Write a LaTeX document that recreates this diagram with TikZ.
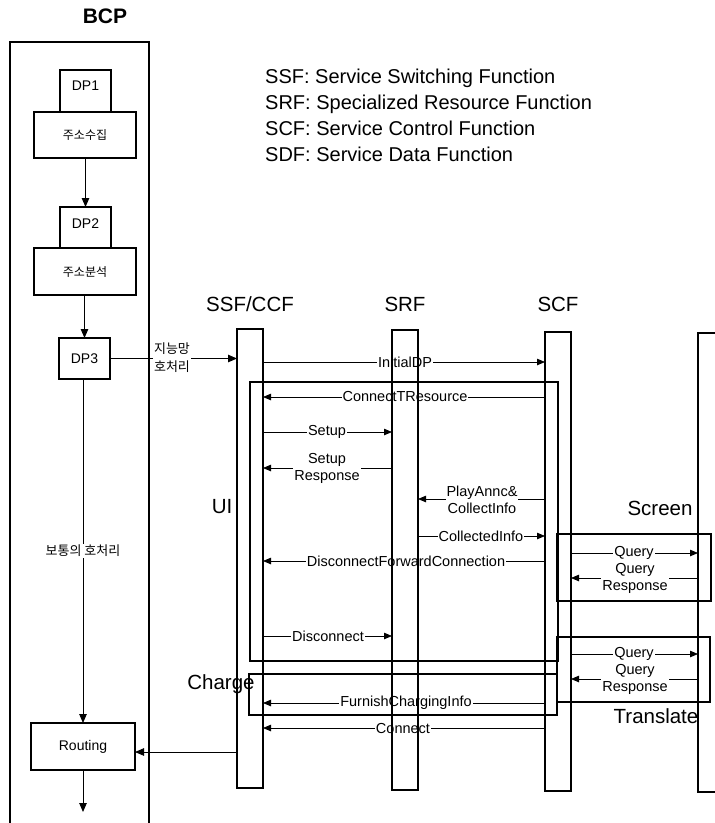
\documentclass[tikz,border=0pt]{standalone}
\usepackage{fontspec}
\setmainfont{Liberation Sans}
\newfontfamily\kr{Noto Sans CJK KR}
\usetikzlibrary{arrows.meta}
\begin{document}
\begin{tikzpicture}[x=1pt,y=-1pt,
  ln/.style={line width=1.1pt},
  msg/.style={line width=0.8pt,-{Triangle[length=8pt,width=6.5pt]}},
  flow/.style={line width=0.9pt,-{Triangle[length=9pt,width=7.5pt]}},
  barnode/.style={minimum width=26pt,inner sep=0pt,outer sep=0pt},
  box/.style={draw,line width=1.1pt,fill=white,inner sep=0pt,outer sep=0pt,font=\fontsize{14}{15}\selectfont},
  krbox/.style={box,font=\kr\fontsize{12}{14}\selectfont},
  grp/.style={draw,line width=1.1pt,inner sep=0pt,outer sep=0pt},
  lbl/.style={fill=white,inner sep=1pt,font=\fontsize{14.5}{17}\selectfont,align=center},
  krlbl/.style={fill=white,inner sep=1pt,font=\kr\fontsize{13}{18}\selectfont,align=center},
  big/.style={font=\fontsize{20.5}{24}\selectfont,inner sep=0pt,anchor=base},
  leg/.style={font=\fontsize{20}{24}\selectfont,inner sep=0pt,anchor=base west}
]
\useasboundingbox (0,0) rectangle (715,823);

% ---------- BCP ----------
\node[font=\bfseries\fontsize{21}{24}\selectfont,inner sep=0pt,anchor=base] (bcp) at (105,23) {BCP};
\draw[ln] (10,823) -- (10,42) -- (149,42) -- (149,823);

\node[box,minimum width=51pt,minimum height=42pt] (dp1) at (85.5,91) {};
\node[font=\fontsize{14}{15}\selectfont,inner sep=0pt] (dp1t) at (85.5,86) {DP1};
\node[krbox,minimum width=102pt,minimum height=46pt] (a1) at (85,135) {주소수집};

\node[box,minimum width=51pt,minimum height=41pt] (dp2) at (85.5,227.5) {};
\node[font=\fontsize{14}{15}\selectfont,inner sep=0pt] (dp2t) at (85.5,224) {DP2};
\node[krbox,minimum width=102pt,minimum height=47pt] (a2) at (85,271.5) {주소분석};

\node[box,minimum width=51pt,minimum height=41pt] (dp3) at (84.5,358.5) {DP3};
\node[box,minimum width=104pt,minimum height=47pt] (rt) at (83,746.5) {Routing};
\coordinate (rtout) at (83,812);

\draw[flow] (a1.south -| dp2.north) -- (dp2.north);
\draw[flow] (a2.south -| dp3.north) -- (dp3.north);
\draw[flow] (dp3.south -| rt.north) -- (rt.north);
\node[krlbl] (normal) at (83,551) {보통의 호처리};
\draw[flow] (rt.south) -- (rtout);

% ---------- headers and legend ----------
\node[big] (hssf) at (250,311) {SSF/CCF};
\node[big] (hsrf) at (405,311) {SRF};
\node[big] (hscf) at (558,311) {SCF};
\node[leg] (l1) at (265,83) {SSF: Service Switching Function};
\node[leg] (l2) at (265,109) {SRF: Specialized Resource Function};
\node[leg] (l3) at (265,135) {SCF: Service Control Function};
\node[leg] (l4) at (265,161) {SDF: Service Data Function};

% ---------- lifeline bars (positions) ----------
\path node[barnode,minimum height=459pt] (ssf) at (250,558.5) {}
      node[barnode,minimum height=460pt] (srf) at (405,560) {}
      node[barnode,minimum height=459pt] (scf) at (558,561.5) {};
\coordinate (sdf) at (698,333);

% ---------- group boxes ----------
\node[grp,minimum width=308pt,minimum height=279pt] (ui) at (404,521.5) {};
\node[grp,minimum width=308pt,minimum height=41pt] (chg) at (403,694.5) {};
\node[grp,minimum width=154pt,minimum height=67pt] (scr) at (634,567.5) {};
\node[grp,minimum width=153pt,minimum height=65pt] (trn) at (633.5,669.5) {};

\node[big] (tui) at (222,513) {UI};
\node[big] (tchg) at (221,689) {Charge};
\node[big] (tscr) at (660,515) {Screen};
\node[big] (ttrn) at (656,723) {Translate};

% ---------- BCP <-> SSF ----------
\draw[flow] (dp3.east) -- (ssf.west |- dp3.east);
\node[krlbl] (inlbl) at (172,358) {지능망\\호처리};
\draw[flow] (ssf.west |- 0,752) -- (rt.east |- 0,752);

% ---------- messages ----------
\draw[msg] (ssf.east |- 0,362) -- (scf.west |- 0,362);
\node[lbl] (m1) at (405,362) {InitialDP};
\draw[msg] (scf.west |- 0,397) -- (ssf.east |- 0,397);
\node[lbl] (m2) at (405,397) {ConnectTResource};
\draw[msg] (ssf.east |- 0,432) -- (srf.west |- 0,432);
\node[lbl] (m3) at (327,432) {Setup};
\draw[msg] (srf.west |- 0,468) -- (ssf.east |- 0,468);
\node[lbl] (m4) at (327,468) {Setup\\Response};
\draw[msg] (scf.west |- 0,499) -- (srf.east |- 0,499);
\node[lbl] (m5) at (482,500) {PlayAnnc\&\\CollectInfo};
\draw[msg] (srf.east |- 0,536) -- (scf.west |- 0,536);
\node[lbl] (m6) at (481,536) {CollectedInfo};
\draw[msg] (scf.west |- 0,561) -- (ssf.east |- 0,561);
\node[lbl] (m7) at (406,561) {DisconnectForwardConnection};
\draw[msg] (ssf.east |- 0,636) -- (srf.west |- 0,636);
\node[lbl] (m8) at (328,636) {Disconnect};
\draw[msg] (scf.west |- 0,703) -- (ssf.east |- 0,703);
\node[lbl] (m9) at (406,703) {FurnishChargingInfo};
\draw[msg] (scf.west |- 0,728) -- (ssf.east |- 0,728);
\node[lbl] (m10) at (403,728) {Connect};

\draw[msg] (scf.east |- 0,553) -- (sdf |- 0,553);
\node[lbl] (q1) at (634,553) {Query};
\draw[msg] (sdf |- 0,578) -- (scf.east |- 0,578);
\node[lbl] (q2) at (635,578) {Query\\Response};
\draw[msg] (scf.east |- 0,654) -- (sdf |- 0,654);
\node[lbl] (q3) at (634,654) {Query};
\draw[msg] (sdf |- 0,679) -- (scf.east |- 0,679);
\node[lbl] (q4) at (635,679) {Query\\Response};

% ---------- lifeline bars (outlines on top) ----------
\foreach \b in {ssf,srf,scf}
  \draw[ln] (\b.south west) rectangle (\b.north east);
\draw[ln] (715,333) -- (sdf) -- (698,792) -- (715,792);
\end{tikzpicture}
\end{document}
